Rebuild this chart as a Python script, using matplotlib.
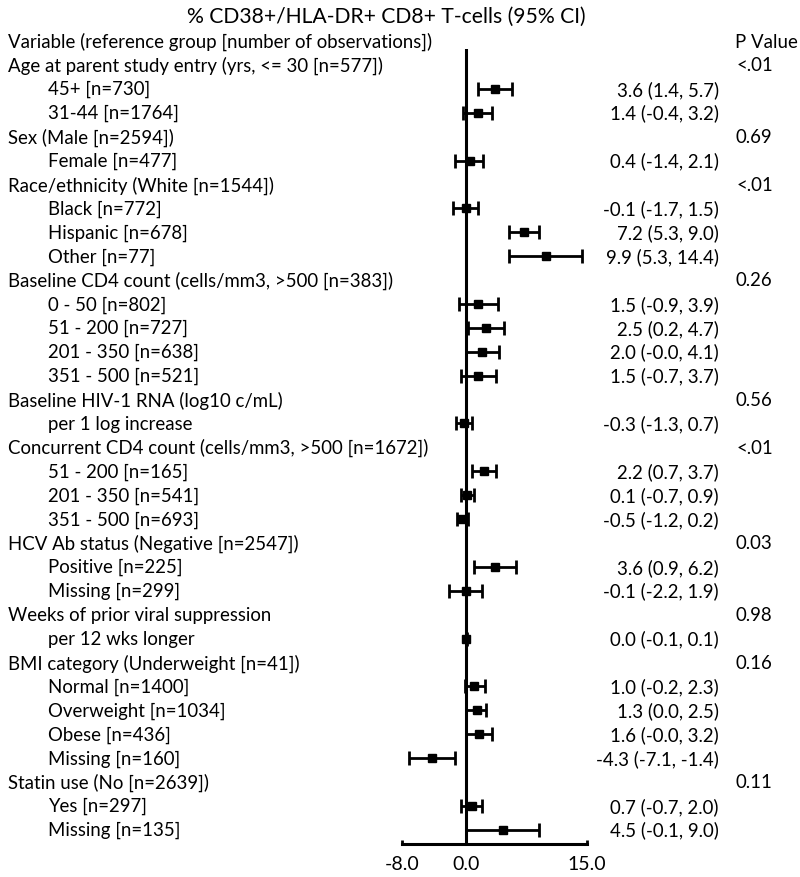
import numpy as np
import matplotlib
matplotlib.use("Agg")
from matplotlib import pyplot as plt

plt.rcParams['font.family'] = ['Lato', 'DejaVu Sans']

# righe: (testo, livello, stima, ci basso, ci alto, p value)
labels = ["Age at parent study entry (yrs, <= 30 [n=577])", "45+ [n=730]", "31-44 [n=1764]",
          "Sex (Male [n=2594])", "Female [n=477]",
          "Race/ethnicity (White [n=1544])", "Black [n=772]", "Hispanic [n=678]", "Other [n=77]",
          "Baseline CD4 count (cells/mm3, >500 [n=383])", "0 - 50 [n=802]", "51 - 200 [n=727]",
          "201 - 350 [n=638]", "351 - 500 [n=521]",
          "Baseline HIV-1 RNA (log10 c/mL)", "per 1 log increase",
          "Concurrent CD4 count (cells/mm3, >500 [n=1672])", "51 - 200 [n=165]",
          "201 - 350 [n=541]", "351 - 500 [n=693]",
          "HCV Ab status (Negative [n=2547])", "Positive [n=225]", "Missing [n=299]",
          "Weeks of prior viral suppression", "per 12 wks longer",
          "BMI category (Underweight [n=41])", "Normal [n=1400]", "Overweight [n=1034]",
          "Obese [n=436]", "Missing [n=160]",
          "Statin use (No [n=2639])", "Yes [n=297]", "Missing [n=135]"]
level = [0, 1, 1, 0, 1, 0, 1, 1, 1, 0, 1, 1, 1, 1, 0, 1, 0, 1, 1, 1, 0, 1, 1, 0, 1, 0, 1, 1, 1, 1, 0, 1, 1]
est = [None, 3.6, 1.4, None, 0.4, None, -0.1, 7.2, 9.9, None, 1.5, 2.5, 2.0, 1.5, None, -0.3,
       None, 2.2, 0.1, -0.5, None, 3.6, -0.1, None, 0.0, None, 1.0, 1.3, 1.6, -4.3, None, 0.7, 4.5]
lo = [None, 1.4, -0.4, None, -1.4, None, -1.7, 5.3, 5.3, None, -0.9, 0.2, -0.0, -0.7, None, -1.3,
      None, 0.7, -0.7, -1.2, None, 0.9, -2.2, None, -0.1, None, -0.2, 0.0, -0.0, -7.1, None, -0.7, -0.1]
hi = [None, 5.7, 3.2, None, 2.1, None, 1.5, 9.0, 14.4, None, 3.9, 4.7, 4.1, 3.7, None, 0.7,
      None, 3.7, 0.9, 0.2, None, 6.2, 1.9, None, 0.1, None, 2.3, 2.5, 3.2, -1.4, None, 2.0, 9.0]
pval = ["<.01", "", "", "0.69", "", "<.01", "", "", "", "0.26", "", "", "", "", "0.56", "",
        "<.01", "", "", "", "0.03", "", "", "0.98", "", "0.16", "", "", "", "", "0.11", "", ""]

W, H = 800, 878
fig = plt.figure(figsize=(W / 100, H / 100), dpi=100)

# pixel -> coordinate figura
def fx(px):
    return px / W

def fy(py):
    return 1 - py / H

row0 = 42    # riga intestazione
step = 23.9  # distanza righe
fs = 13.4

# asse per il forest plot: x da -8 a 15
x0, x1 = 402, 587
ya, yb = 50, 845
ax = fig.add_axes([fx(x0), fy(yb), fx(x1) - fx(x0), (yb - ya) / H])
ax.set_xlim(-8, 15)
# mappo pixel ya..yb sulle righe
r_top = (ya - row0) / step
r_bot = (yb - row0) / step
ax.set_ylim(r_bot, r_top)

rows = np.arange(1, len(labels) + 1)
for r, e, l, h in zip(rows, est, lo, hi):
    if e is None:
        continue
    ax.errorbar(e, r, xerr=[[e - l], [h - e]], fmt='s', color='black', ms=6,
                elinewidth=2, capsize=5, capthick=2)

ax.axvline(0, color='black', lw=2.2)
for s in ['top', 'right', 'left']:
    ax.spines[s].set_visible(False)
ax.spines['bottom'].set_linewidth(2.2)
ax.set_yticks([])
ax.set_xticks([-8, 0, 15])
ax.set_xticklabels(["-8.0", "0.0", "15.0"], fontsize=14)
ax.tick_params(axis='x', direction='in', length=3, width=2, pad=8)

# testi
fig.text(fx(386), fy(17), "% CD38+/HLA-DR+ CD8+ T-cells (95% CI)", ha='center', va='center', fontsize=15.2)
fig.text(fx(8), fy(row0), "Variable (reference group [number of observations])", ha='left', va='center', fontsize=fs)
fig.text(fx(735), fy(row0), "P Value", ha='left', va='center', fontsize=fs)

for r, lab, lv, e, l, h, p in zip(rows, labels, level, est, lo, hi, pval):
    py = row0 + step * r
    fig.text(fx(8 + 40 * lv), fy(py), lab, ha='left', va='center', fontsize=fs)
    if e is not None:
        fig.text(fx(719), fy(py), f"{e:.1f} ({l:.1f}, {h:.1f})", ha='right', va='center', fontsize=fs)
    if p:
        fig.text(fx(736), fy(py), p, ha='left', va='center', fontsize=fs)

fig.savefig("out.png", dpi=100)
